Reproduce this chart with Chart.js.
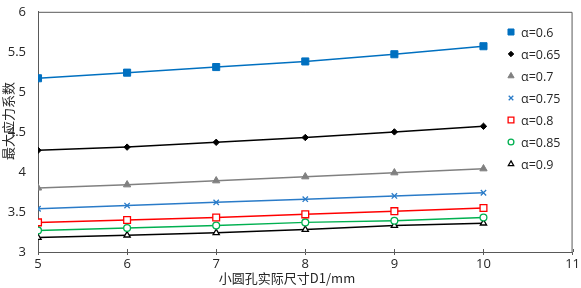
<!DOCTYPE html>
<html>
<head>
<meta charset="utf-8">
<script src="https://cdn.jsdelivr.net/npm/chart.js@4"></script>
<style>
  html, body { margin: 0; padding: 0; background: #fff; }
  #wrap { width: 581px; height: 288px; }
</style>
</head>
<body>
<div id="wrap"><canvas id="stressChart"></canvas></div>
<script>
// data
const sizes = [5, 6, 7, 8, 9, 10];
const alphaLabels = ["α=0.6", "α=0.65", "α=0.7", "α=0.75", "α=0.8", "α=0.85", "α=0.9"];
const a060 = [5.17, 5.24, 5.31, 5.38, 5.47, 5.57];
const a065 = [4.27, 4.31, 4.37, 4.43, 4.50, 4.57];
const a070 = [3.80, 3.84, 3.89, 3.94, 3.99, 4.04];
const a075 = [3.54, 3.58, 3.62, 3.66, 3.70, 3.74];
const a080 = [3.37, 3.40, 3.43, 3.47, 3.51, 3.55];
const a085 = [3.27, 3.30, 3.33, 3.37, 3.39, 3.43];
const a090 = [3.18, 3.21, 3.24, 3.28, 3.33, 3.36];
const yTicks = [3, 3.5, 4, 4.5, 5, 5.5, 6];
const xTicks = [5, 6, 7, 8, 9, 10, 11];

const seriesValues = [a060, a065, a070, a075, a080, a085, a090];
const styles = [
  { color: "#0070C0", point: "rect", r: 5, fill: true },
  { color: "#000000", point: "rectRot", r: 3.2, fill: true },
  { color: "#808080", point: "triangle", r: 4.2, fill: true },
  { color: "#2A7BC8", point: "crossRot", r: 3.8, fill: false },
  { color: "#FF0000", point: "rect", r: 4.8, fill: false },
  { color: "#00B050", point: "circle", r: 3.4, fill: false },
  { color: "#000000", point: "triangle", r: 3.6, fill: false }
];

const datasets = seriesValues.map(function (vals, i) {
  const s = styles[i];
  return {
    label: alphaLabels[i],
    data: vals.map(function (v, j) { return { x: sizes[j], y: v }; }),
    borderColor: s.color,
    borderWidth: 1.5,
    pointStyle: s.point,
    pointRadius: s.r,
    pointBorderColor: s.color,
    pointBackgroundColor: s.fill ? s.color : "#ffffff",
    pointBorderWidth: s.fill ? 1 : 1.3,
    tension: 0
  };
});

const font = "'Open Sans', 'Noto Sans', sans-serif";
const cjk = "'Noto Sans CJK SC', sans-serif";

// frame around the plot, legend inside the plot, axis titles
const extras = {
  id: "extras",
  afterDraw: function (chart) {
    const ctx = chart.ctx;
    const a = chart.chartArea;
    ctx.save();
    ctx.strokeStyle = "#595959";
    ctx.lineWidth = 1;
    ctx.beginPath();
    ctx.moveTo(a.left, a.top + 0.5);
    ctx.lineTo(a.right - 0.5, a.top + 0.5);
    ctx.lineTo(a.right - 0.5, a.bottom);
    ctx.stroke();

    // x ticks poke slightly into the plot as well
    const xs = chart.scales.x;
    ctx.beginPath();
    xTicks.forEach(function (v) {
      const px = Math.round(xs.getPixelForValue(v)) + 0.5;
      ctx.moveTo(px, a.bottom - 3);
      ctx.lineTo(px, a.bottom);
    });
    ctx.stroke();

    ctx.font = "12.5px " + font;
    ctx.textBaseline = "middle";
    ctx.textAlign = "left";
    chart.data.datasets.forEach(function (ds, i) {
      const y = 32 + i * 22;
      ctx.fillStyle = ds.pointBackgroundColor;
      ctx.strokeStyle = ds.pointBorderColor;
      ctx.lineWidth = ds.pointBorderWidth;
      Chart.helpers.drawPoint(ctx, {
        pointStyle: ds.pointStyle,
        radius: ds.pointRadius * 0.85,
        rotation: 0,
        borderWidth: ds.pointBorderWidth
      }, 511, y);
      ctx.fillStyle = "#262626";
      ctx.fillText(ds.label, 521, y + 1);
    });

    ctx.font = "13px " + cjk;
    ctx.textAlign = "center";
    ctx.fillStyle = "#262626";
    ctx.fillText("小圆孔实际尺寸D1/mm", 287, 278);

    ctx.translate(8, 121);
    ctx.rotate(-Math.PI / 2);
    ctx.fillText("最大应力系数", 0, 0);
    ctx.restore();
  }
};

new Chart(document.getElementById("stressChart").getContext("2d"), {
  type: "line",
  data: { datasets: datasets },
  options: {
    responsive: true,
    maintainAspectRatio: false,
    animation: false,
    layout: { padding: { top: 5, right: 4, left: 0, bottom: 0 } },
    plugins: {
      legend: { display: false },
      tooltip: { enabled: false }
    },
    scales: {
      x: {
        type: "linear",
        min: 5,
        max: 11,
        afterBuildTicks: function (scale) {
          scale.ticks = xTicks.map(function (v) { return { value: v }; });
        },
        afterFit: function (scale) { scale.height = 36; },
        grid: {
          display: true,
          drawOnChartArea: false,
          drawTicks: true,
          tickLength: 3,
          color: "#595959"
        },
        border: { display: true, color: "#595959", width: 1 },
        ticks: {
          padding: 1,
          color: "#262626",
          font: { size: 13, family: font }
        }
      },
      y: {
        min: 3,
        max: 6,
        afterBuildTicks: function (scale) {
          scale.ticks = yTicks.map(function (v) { return { value: v }; });
        },
        afterFit: function (scale) { scale.width = 38; },
        grid: { display: false },
        border: { display: true, color: "#595959", width: 1 },
        ticks: {
          padding: 4,
          color: "#262626",
          font: { size: 13, family: font },
          callback: function (v) { return String(v); }
        }
      }
    }
  },
  plugins: [extras]
});
</script>
</body>
</html>
